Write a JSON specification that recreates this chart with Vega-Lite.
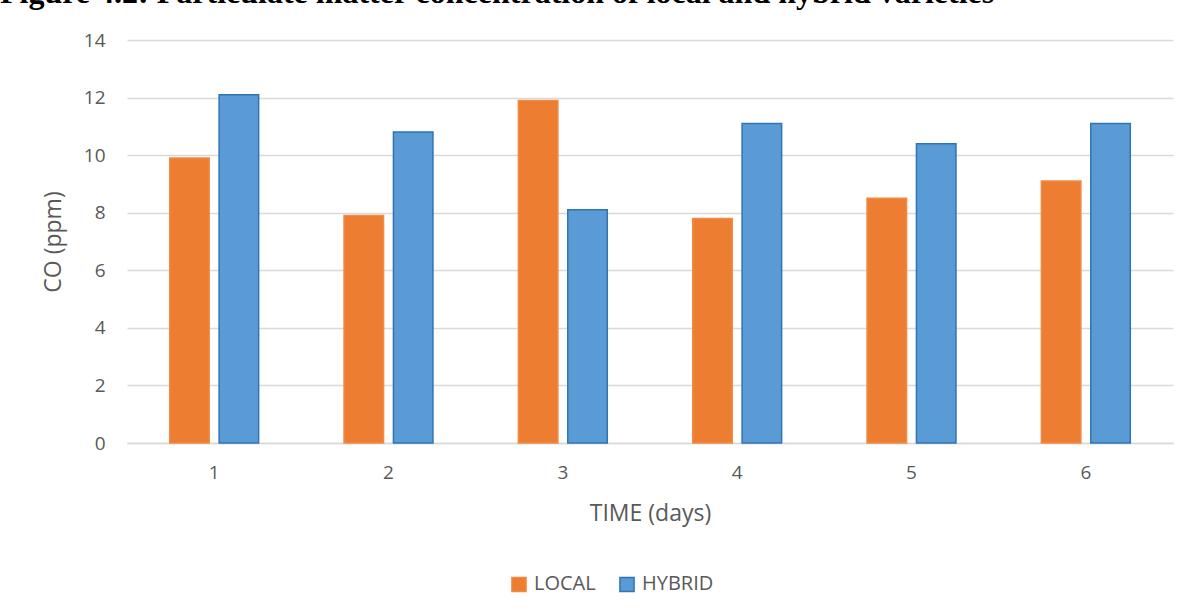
{
  "$schema": "https://vega.github.io/schema/vega-lite/v6.json",
  "autosize": {"type": "none"},
  "width": 1046,
  "height": 403,
  "padding": {"left": 127, "top": 40, "right": 26, "bottom": 172},
  "background": "white",
  "title": {
    "text": "Figure 4.2: Particulate matter concentration of local and hybrid varieties",
    "anchor": "start",
    "frame": "group",
    "font": "Liberation Serif",
    "fontSize": 32,
    "fontWeight": "bold",
    "color": "black",
    "baseline": "alphabetic",
    "offset": 16,
    "dy": 20,
    "dx": -127
  },
  "data": {
    "values": [
      {"day": "1", "variety": "LOCAL", "co": 9.9},
      {"day": "1", "variety": "HYBRID", "co": 12.1},
      {"day": "2", "variety": "LOCAL", "co": 7.9},
      {"day": "2", "variety": "HYBRID", "co": 10.8},
      {"day": "3", "variety": "LOCAL", "co": 11.9},
      {"day": "3", "variety": "HYBRID", "co": 8.1},
      {"day": "4", "variety": "LOCAL", "co": 7.8},
      {"day": "4", "variety": "HYBRID", "co": 11.1},
      {"day": "5", "variety": "LOCAL", "co": 8.5},
      {"day": "5", "variety": "HYBRID", "co": 10.4},
      {"day": "6", "variety": "LOCAL", "co": 9.1},
      {"day": "6", "variety": "HYBRID", "co": 11.1}
    ]
  },
  "mark": {"type": "bar", "strokeWidth": 1.5},
  "encoding": {
    "x": {
      "field": "day",
      "type": "nominal",
      "scale": {"paddingInner": 0.49, "paddingOuter": 0.245},
      "axis": {
        "title": "TIME (days)",
        "labelAngle": 0,
        "labelPadding": 20,
        "titlePadding": 20,
        "ticks": false,
        "domainColor": "#d9d9d9",
        "domainWidth": 1.5
      }
    },
    "xOffset": {
      "field": "variety",
      "type": "nominal",
      "sort": ["LOCAL", "HYBRID"],
      "scale": {"paddingInner": 0.2, "paddingOuter": 0}
    },
    "y": {
      "field": "co",
      "type": "quantitative",
      "scale": {"domain": [0, 14]},
      "axis": {
        "title": "CO (ppm)",
        "values": [0, 2, 4, 6, 8, 10, 12, 14],
        "ticks": false,
        "domain": false,
        "labelPadding": 22,
        "titlePadding": 18,
        "gridColor": "#d9d9d9",
        "gridWidth": 1.5
      }
    },
    "color": {
      "field": "variety",
      "type": "nominal",
      "sort": ["LOCAL", "HYBRID"],
      "scale": {"domain": ["LOCAL", "HYBRID"], "range": ["#ed7d31", "#5b9bd5"]},
      "legend": {
        "title": null,
        "orient": "none",
        "direction": "horizontal",
        "legendX": 382,
        "legendY": 534,
        "symbolType": "square",
        "symbolSize": 200,
        "symbolStrokeWidth": 1.5,
        "columnPadding": 20,
        "labelFontSize": 20,
        "labelFont": "Open Sans",
        "labelColor": "#595959",
        "labelOffset": 5
      }
    },
    "stroke": {
      "field": "variety",
      "type": "nominal",
      "scale": {"domain": ["LOCAL", "HYBRID"], "range": ["#f08a45", "#2e75b6"]},
      "legend": null
    }
  },
  "config": {
    "view": {"stroke": null},
    "axis": {
      "labelFont": "Open Sans",
      "titleFont": "Open Sans",
      "labelFontSize": 19,
      "titleFontSize": 23,
      "labelColor": "#595959",
      "titleColor": "#595959",
      "titleFontWeight": "normal"
    }
  }
}
